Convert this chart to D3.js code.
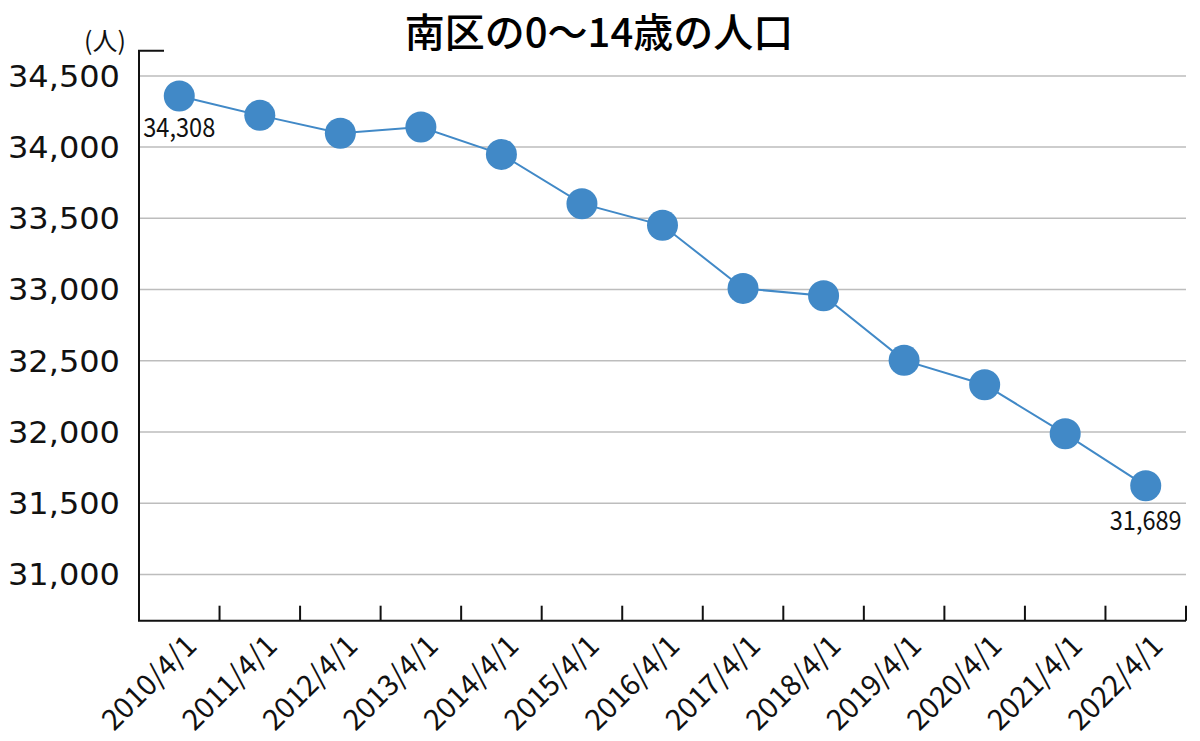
<!DOCTYPE html>
<html><head><meta charset="utf-8">
<script src="https://cdn.jsdelivr.net/npm/d3@7"></script>
<style>html,body{margin:0;padding:0;background:#fff;}</style>
</head><body>
<svg id="c" width="1200" height="741"></svg>
<script>
const title = "南区の0〜14歳の人口";
const unitLabel = "(人)";
const categories = ["2010/4/1","2011/4/1","2012/4/1","2013/4/1","2014/4/1","2015/4/1","2016/4/1","2017/4/1","2018/4/1","2019/4/1","2020/4/1","2021/4/1","2022/4/1"];
const values = [34359, 34223, 34097, 34141, 33949, 33603, 33451, 33008, 32957, 32503, 32332, 31987, 31622];
const yTicks = [31000, 31500, 32000, 32500, 33000, 33500, 34000, 34500];
const pointLabels = [{index: 0, text: "34,308"}, {index: 12, text: "31,689"}];

const svg = d3.select("#c");
const m = {left: 139, right: 1186, top: 50.7, bottom: 620.7};
const x = d3.scaleBand().domain(categories).range([m.left, m.right]).padding(0);
const y = d3.scaleLinear().domain([30675, 34677]).range([m.bottom, m.top]);
const blue = "#4189c7";

// gridlines
svg.append("g").selectAll("line").data(yTicks).join("line")
  .attr("x1", m.left).attr("x2", m.right)
  .attr("y1", d => y(d)).attr("y2", d => y(d))
  .attr("stroke", "#bdbdbd").attr("stroke-width", 1.5);

// y labels
const fmt = d3.format(",");
svg.append("g").selectAll("text").data(yTicks).join("text")
  .attr("x", 120).attr("y", d => y(d)).attr("dy", "0.36em")
  .attr("text-anchor", "end")
  .attr("font-family", "DejaVu Sans").attr("font-size", 30).attr("fill", "#111")
  .attr("textLength", 112).attr("lengthAdjust", "spacingAndGlyphs")
  .text(d => fmt(d));

// axes
const ax = svg.append("g").attr("stroke", "#111").attr("stroke-width", 2).attr("fill", "none");
ax.append("path").attr("d", `M${m.left+25},${m.top} H${m.left} V${m.bottom} H${m.right}`);
const bounds = categories.map(c => x(c) + x.bandwidth());
ax.selectAll("line.t").data(bounds).join("line")
  .attr("x1", d => d).attr("x2", d => d)
  .attr("y1", m.bottom).attr("y2", m.bottom - 15);

// x labels
svg.append("g").selectAll("text").data(categories).join("text")
  .attr("transform", d => `translate(${x(d) + x.bandwidth()/2 + 19},${m.bottom + 27}) rotate(-45)`)
  .attr("text-anchor", "end")
  .attr("font-family", "'Noto Sans CJK JP'").attr("font-size", 29).attr("fill", "#111")
  .text(d => d);

// line
const line = d3.line().x((d, i) => x(categories[i]) + x.bandwidth()/2).y(d => y(d));
svg.append("path").datum(values).attr("d", line)
  .attr("fill", "none").attr("stroke", blue).attr("stroke-width", 2);

svg.append("g").selectAll("circle").data(values).join("circle")
  .attr("cx", (d, i) => x(categories[i]) + x.bandwidth()/2)
  .attr("cy", d => y(d)).attr("r", 15.5).attr("fill", blue);

// point labels
svg.append("g").selectAll("text").data(pointLabels).join("text")
  .attr("x", d => x(categories[d.index]) + x.bandwidth()/2)
  .attr("y", d => y(values[d.index]) + (d.index === 0 ? 41 : 44))
  .attr("text-anchor", "middle")
  .attr("font-family", "'Noto Sans CJK JP'").attr("font-size", 26).attr("fill", "#111")
  .attr("textLength", 72).attr("lengthAdjust", "spacingAndGlyphs")
  .text(d => d.text);

// unit
svg.append("text").attr("x", 105).attr("y", 50).attr("text-anchor", "middle")
  .attr("font-family", "'Noto Sans CJK JP'").attr("font-size", 25).attr("fill", "#111")
  .text(unitLabel);

// title
svg.append("text").attr("x", 599).attr("y", 47).attr("text-anchor", "middle")
  .attr("font-family", "'Noto Sans CJK JP'").attr("font-size", 40).attr("font-weight", 500).attr("fill", "#000")
  .text(title);
</script>
</body></html>
